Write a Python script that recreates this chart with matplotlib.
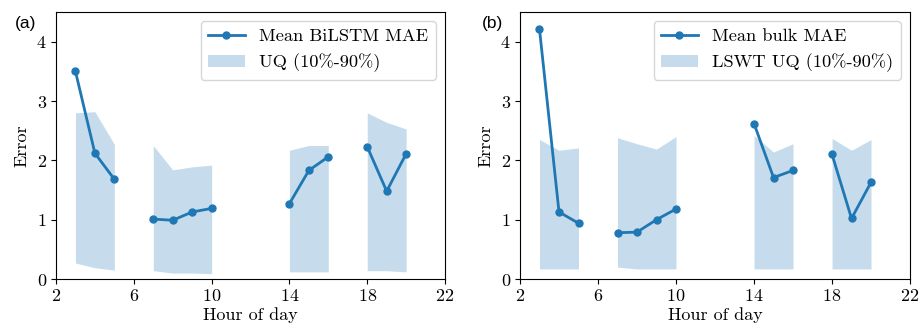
import numpy as np
import matplotlib
matplotlib.use("Agg")
import matplotlib.pyplot as plt

plt.rcParams['font.family'] = ['cmr10', 'DejaVu Serif']
plt.rcParams['axes.formatter.use_mathtext'] = True
plt.rcParams['mathtext.fontset'] = 'cm'

# hour groups (contiguous runs)
groups = [[3, 4, 5], [7, 8, 9, 10], [14, 15, 16], [18, 19, 20]]

# Panel (a)
mean_a = [[3.50, 2.12, 1.68], [1.01, 0.99, 1.13, 1.19], [1.27, 1.83, 2.06], [2.23, 1.48, 2.11]]
upper_a = [[2.80, 2.82, 2.27], [2.25, 1.84, 1.89, 1.92], [2.17, 2.25, 2.25], [2.80, 2.64, 2.53]]
lower_a = [[0.27, 0.19, 0.15], [0.14, 0.10, 0.10, 0.09], [0.12, 0.12, 0.12], [0.14, 0.14, 0.12]]

# Panel (b)
mean_b = [[4.21, 1.13, 0.94], [0.78, 0.79, 1.00, 1.18], [2.62, 1.71, 1.83], [2.10, 1.02, 1.63]]
upper_b = [[2.35, 2.17, 2.21], [2.38, 2.28, 2.19, 2.40], [2.42, 2.14, 2.28], [2.37, 2.17, 2.35]]
lower_b = [[0.17, 0.17, 0.17], [0.20, 0.17, 0.17, 0.17], [0.17, 0.17, 0.17], [0.17, 0.17, 0.17]]

xticks = [2, 6, 10, 14, 18, 22]
yticks = [0, 1, 2, 3, 4]

fig = plt.figure(figsize=(9.21, 3.36), dpi=100)
ax_a = fig.add_axes([0.0608, 0.1696, 0.4224, 0.7947])
ax_b = fig.add_axes([0.5646, 0.1696, 0.4235, 0.7947])

color = '#1f77b4'

def draw(ax, mean, upper, lower, line_label, fill_label):
    for i, (h, m, u, l) in enumerate(zip(groups, mean, upper, lower)):
        ax.fill_between(h, l, u, color=color, alpha=0.25, linewidth=0,
                        label=fill_label if i == 0 else None)
        ax.plot(h, m, '-o', color=color, lw=2, ms=5,
                label=line_label if i == 0 else None)
    ax.set_xlim(2, 22)
    ax.set_ylim(0, 4.5)
    ax.set_xticks(xticks)
    ax.set_yticks(yticks)
    ax.tick_params(labelsize=13, pad=3)
    ax.set_xlabel('Hour of day', fontsize=13, labelpad=2)
    ax.set_ylabel('Error', fontsize=13, labelpad=5)
    handles, labels = ax.get_legend_handles_labels()
    order = [labels.index(line_label), labels.index(fill_label)]
    ax.legend([handles[k] for k in order], [labels[k] for k in order],
              loc='upper right', fontsize=13.2)

draw(ax_a, mean_a, upper_a, lower_a, 'Mean BiLSTM MAE', 'UQ (10%-90%)')
draw(ax_b, mean_b, upper_b, lower_b, 'Mean bulk MAE', 'LSWT UQ (10%-90%)')

fig.text(0.016, 0.93, '(a)', family=['Liberation Sans', 'DejaVu Sans'], fontsize=12.5, va='center')
fig.text(0.523, 0.93, '(b)', family=['Liberation Sans', 'DejaVu Sans'], fontsize=12.5, va='center')

fig.savefig('out.png', dpi=100)
